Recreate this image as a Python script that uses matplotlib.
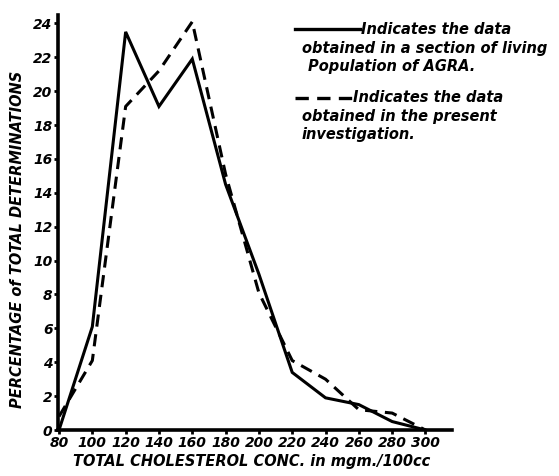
import matplotlib
matplotlib.use("Agg")
import matplotlib.pyplot as plt
from matplotlib.lines import Line2D

# cholesterol classes (mgm./100cc)
chol = [80, 100, 120, 140, 160, 180, 200, 220, 240, 260, 280, 300]
# percentage, living population of Agra (solid)
agra_pct = [0.0, 6.1, 23.5, 19.1, 21.9, 14.5, 9.2, 3.4, 1.9, 1.5, 0.5, 0.0]
# percentage, present investigation (dashed)
present_pct = [0.8, 4.1, 19.1, 21.2, 24.1, 15.1, 8.1, 4.1, 3.0, 1.2, 1.0, 0.0]

x_ticks = [80, 100, 120, 140, 160, 180, 200, 220, 240, 260, 280, 300]
y_ticks = [0, 2, 4, 6, 8, 10, 12, 14, 16, 18, 20, 22, 24]

plt.rcParams['font.family'] = ['DejaVu Sans']

fig = plt.figure(figsize=(5.59, 4.76), dpi=100)
ax = fig.add_axes([0.1038, 0.0966, 0.705, 0.872])

ax.plot(chol, agra_pct, color='black', lw=2.2, solid_joinstyle='miter')
ax.plot(chol, present_pct, color='black', lw=2.2, dashes=(4, 2.5))

ax.set_xlim(79.4, 316)
ax.set_ylim(0, 24.5)
for side in ['top', 'right']:
    ax.spines[side].set_visible(False)
for side in ['left', 'bottom']:
    ax.spines[side].set_linewidth(2.6)

ax.set_xticks(x_ticks)
ax.set_yticks(y_ticks)
ax.tick_params(axis='both', direction='out', length=3, width=2,
               labelsize=10, pad=1)
for lab in ax.get_xticklabels() + ax.get_yticklabels():
    lab.set_fontweight('bold')
    lab.set_fontstyle('italic')

ax.set_xlabel('TOTAL CHOLESTEROL CONC. in mgm./100cc', fontsize=10.5,
              fontweight='bold', fontstyle='italic')
ax.set_ylabel('PERCENTAGE of TOTAL DETERMINATIONS', fontsize=10.5,
              fontweight='bold', fontstyle='italic')
ax.xaxis.set_label_coords(0.49, -0.058)
ax.yaxis.set_label_coords(-0.085, 0.46)

# hand drawn key, top right
W, H = 559, 476
def fx(px):
    return px / W
def fy(py):
    return 1 - py / H

fig.add_artist(Line2D([fx(295), fx(360)], [fy(29), fy(29)], color='black', lw=2.4))
fig.add_artist(Line2D([fx(295), fx(352)], [fy(98), fy(98)], color='black', lw=2.4,
                      dashes=(4, 2.5)))
txt = dict(fontsize=10.5, fontweight='bold', fontstyle='italic', va='center', ha='left')
fig.text(fx(361), fy(29), 'Indicates the data', **txt)
fig.text(fx(302), fy(48), 'obtained in a section of living', **txt)
fig.text(fx(308), fy(66), 'Population of AGRA.', **txt)
fig.text(fx(353), fy(98), 'Indicates the data', **txt)
fig.text(fx(302), fy(117), 'obtained in the present', **txt)
fig.text(fx(302), fy(134), 'investigation.', **txt)

fig.savefig('out.png', dpi=100)
